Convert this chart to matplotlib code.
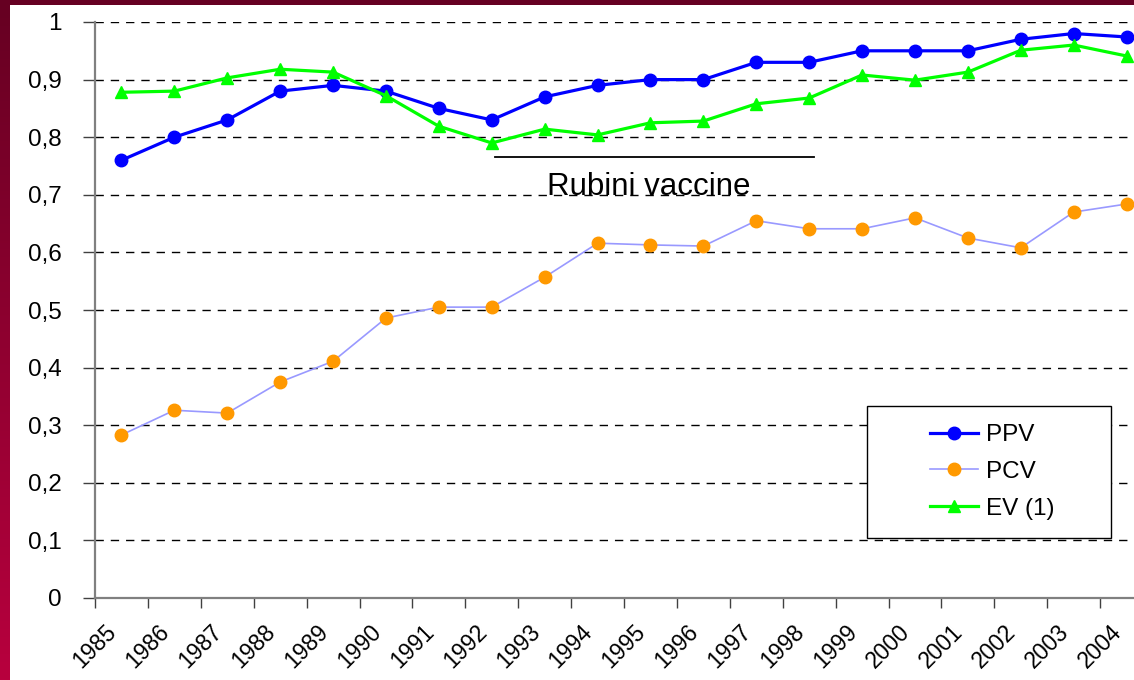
import numpy as np
import matplotlib
matplotlib.use("Agg")
import matplotlib.pyplot as plt
from matplotlib.patches import Rectangle
from matplotlib.lines import Line2D

plt.rcParams['font.family'] = ['Liberation Sans', 'DejaVu Sans']

years = [str(y) for y in range(1985, 2005)]
ppv = [0.76, 0.80, 0.83, 0.88, 0.89, 0.88, 0.85, 0.83, 0.87, 0.89,
       0.90, 0.90, 0.93, 0.93, 0.95, 0.95, 0.95, 0.97, 0.98, 0.974]
pcv = [0.283, 0.326, 0.321, 0.375, 0.411, 0.486, 0.505, 0.505, 0.557, 0.616,
       0.613, 0.611, 0.655, 0.641, 0.641, 0.660, 0.625, 0.608, 0.670, 0.684]
ev = [0.878, 0.880, 0.903, 0.918, 0.913, 0.872, 0.819, 0.790, 0.814, 0.804,
      0.825, 0.828, 0.858, 0.868, 0.908, 0.899, 0.913, 0.951, 0.960, 0.941]
yticks = [0.0, 0.1, 0.2, 0.3, 0.4, 0.5, 0.6, 0.7, 0.8, 0.9, 1.0]
vaccine_label = "Rubini vaccine"
vaccine_span = (1992.56, 1998.59)
vaccine_level = 0.766

W, H = 1134, 680
fig = plt.figure(figsize=(W / 100, H / 100), dpi=100)
fig.patch.set_facecolor('white')

# maroon frame: gradient strip on the left, band along the top
strip = fig.add_axes([0, 0, 10 / W, 1])
top_c = np.array([0x66, 0x00, 0x22]) / 255
bot_c = np.array([0xB8, 0x00, 0x3E]) / 255
t = np.linspace(0, 1, 256)[:, None]
grad = (top_c[None, :] * (1 - t) + bot_c[None, :] * t)[:, None, :]
strip.imshow(grad, aspect='auto', extent=[0, 1, 0, 1])
strip.set_axis_off()
band = fig.add_axes([0, 1 - 5 / H, 1, 5 / H])
band.set_facecolor('#660022')
band.set_xticks([]); band.set_yticks([])
for s in band.spines.values():
    s.set_visible(False)

ax = fig.add_axes([95 / W, 82 / H, 1 - 95 / W, (598 - 22) / H])
ax.set_facecolor('none')
x = np.arange(len(years)) + 0.5

ax.plot(x, ppv, color='#0000FF', lw=2.3, marker='o', ms=9,
        mec='#0000FF', mfc='#0000FF', label='PPV', clip_on=False, zorder=4)
ax.plot(x, pcv, color='#9999FF', lw=1.2, marker='o', ms=9,
        mec='#FF9900', mfc='#FF9900', label='PCV', clip_on=False, zorder=3)
ax.plot(x, ev, color='#00FF00', lw=2.3, marker='^', ms=9,
        mec='#00FF00', mfc='#00FF00', label='EV (1)', clip_on=False, zorder=5)

ax.set_xlim(0, 19.64)
ax.set_ylim(0, 1)
ax.set_yticks(yticks)
ax.set_yticklabels([('%g' % v).replace('.', ',') for v in yticks], fontsize=17.5)
ax.set_xticks(np.arange(len(years)))
ax.set_xticklabels(years, fontsize=16.5, rotation=45, ha='center')
ax.tick_params(axis='y', length=9, width=1, color='#404040', pad=15)
ax.tick_params(axis='x', length=7, width=1, color='#404040', pad=9)

ax.yaxis.grid(True, color='black', lw=1, linestyle=(0, (6, 5)))
ax.set_axisbelow(True)
for side in ('top', 'right'):
    ax.spines[side].set_visible(False)
for side in ('left', 'bottom'):
    ax.spines[side].set_color('#808080')
    ax.spines[side].set_linewidth(1.6)

# vaccine period marker
x0 = vaccine_span[0] - 1985
x1 = vaccine_span[1] - 1985
ax.add_line(Line2D([x0, x1], [vaccine_level, vaccine_level], color='black', lw=1.3, zorder=6))
ax.text((x0 + x1) / 2 - 0.1, 0.700, vaccine_label, fontsize=22.5, ha='center',
        va='baseline', color='black', zorder=6)

# legend with its own rectangular frame
fig.patches.append(Rectangle((867 / W, 1 - 538 / H), (1111 - 867) / W, (538 - 406) / H,
                             transform=fig.transFigure, facecolor='white',
                             edgecolor='black', lw=1, zorder=10))
leg = fig.legend(*ax.get_legend_handles_labels(), loc='center',
                 bbox_to_anchor=(992 / W, 1 - 472 / H), frameon=False,
                 fontsize=17.5, handlelength=2.0, handletextpad=0.3,
                 labelspacing=0.6, borderpad=0)
leg.set_zorder(11)

fig.savefig('out.png', dpi=100, facecolor='white')
